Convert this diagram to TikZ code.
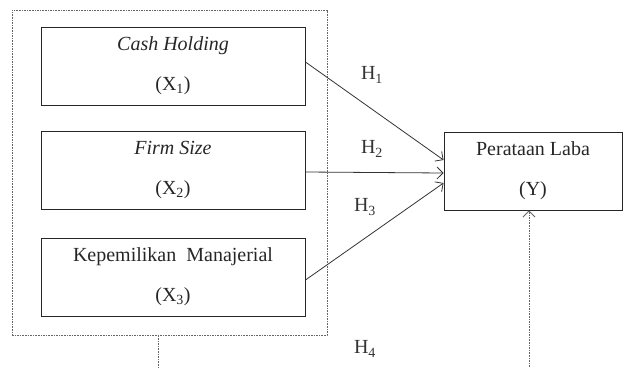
\documentclass[tikz,border=0pt]{standalone}
\usepackage{fontspec}
\setmainfont{Liberation Serif}
\usetikzlibrary{arrows.meta}
\begin{document}
\begin{tikzpicture}[x=1pt,y=-1pt,
  varbox/.style={draw=black!85,line width=0.9pt,rectangle,minimum width=264pt,minimum height=78pt,align=center,inner sep=0pt,text=black!85,font=\fontsize{20}{40}\selectfont},
  ybox/.style={varbox,minimum width=178pt},
  outerbox/.style={draw=black!60,dash pattern=on 1.6pt off 1pt,line width=0.9pt,rectangle,minimum width=315pt,minimum height=325pt,inner sep=0pt},
  conn/.style={draw=black!80,line width=0.8pt,-{Straight Barb[length=6pt,width=12pt]}},
  dconn/.style={draw=black!60,line width=0.9pt,dash pattern=on 1.6pt off 1pt},
  hlab/.style={font=\fontsize{20}{22}\selectfont,text=black!80,inner sep=0pt}
]
\useasboundingbox (0,0) rectangle (624,367);
\node[outerbox] (outer) at (169.5,172.5) {};
\node[varbox] (x1) at (173,66) {\textit{Cash Holding}\\(X\textsubscript{1})};
\node[varbox] (x2) at (173,170) {\textit{Firm Size}\\(X\textsubscript{2})};
\node[varbox] (x3) at (173,277) {Kepemilikan\ \ Manajerial\\(X\textsubscript{3})};
\node[ybox] (y) at (533,171) {Perataan Laba\\(Y)};
\draw[conn] ([yshift=4pt]x1.east) -- ([yshift=11pt]y.west);
\draw[conn] ([yshift=-2pt]x2.east) -- ([yshift=-2pt]y.west);
\draw[conn] ([yshift=-3pt]x3.east) -- ([yshift=-12pt]y.west);
\node[hlab] (h1) at (372,75) {H\textsubscript{1}};
\node[hlab] (h2) at (372,149) {H\textsubscript{2}};
\node[hlab] (h3) at (365,207) {H\textsubscript{3}};
\node[hlab] (h4) at (365,349) {H\textsubscript{4}};
\coordinate (b1) at (158,367);
\coordinate (b2) at (529,367);
\draw[dconn] ([xshift=-11.5pt]outer.south) -- (b1);
\draw[dconn,-{Straight Barb[length=6pt,width=12pt]}] (b2) -- ([xshift=-4pt]y.south);
\end{tikzpicture}
\end{document}
